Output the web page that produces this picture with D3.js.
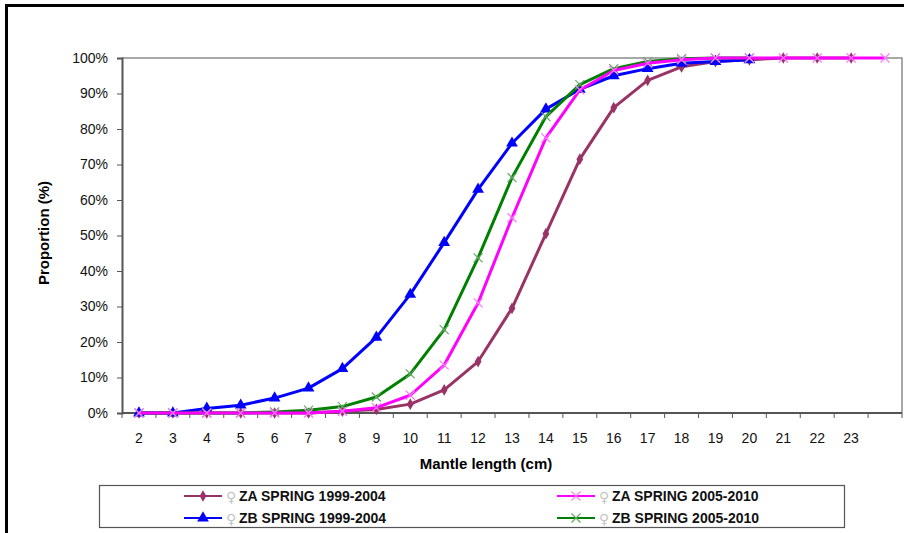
<!DOCTYPE html>
<html lang="en">
<head>
    <meta charset="utf-8" />
    <title>Mantle length proportion</title>
    <style type="text/css">
        body{ margin:0; background:#fff; }
        text{ font-family:"Liberation Sans", Arial, sans-serif; }
    </style>
</head>
<body>

<script src="https://cdn.jsdelivr.net/npm/d3@7/dist/d3.min.js"></script>

<script>
    var width = 904, height = 533;

    // categories on the x axis (last one has no label in the original)
    var lengths = ["2","3","4","5","6","7","8","9","10","11","12","13","14","15","16","17","18","19","20","21","22","23",""];
    var yTicks = [0,10,20,30,40,50,60,70,80,90,100];

    // proportions in %, one per category, null = no point
    var zaSpring9904 = [0,0,0,0,0,0,0.5,1,2.5,6.5,14.5,29.5,50.5,71.5,86,93.7,97.5,99,99.5,100,100,100,null];
    var zaSpring0510 = [0,0,0,0,0,0,0.5,1.5,5,13.5,31,55,77.5,91,96.5,98.5,99.5,100,100,100,100,100,100];
    var zbSpring9904 = [0,0,1.3,2.2,4.2,7,12.5,21.3,33.4,48,63,76,85.6,91.2,95,97,98.5,99,99.5,null,null,null,null];
    var zbSpring0510 = [0,0,0,0,0.3,0.8,1.8,4.5,11,23.5,43.7,66.3,83.5,92.5,97,99,99.8,100,100,null,null,null,null];

    var seriesNames = ["ZA SPRING 1999-2004","ZA SPRING 2005-2010","ZB SPRING 1999-2004","ZB SPRING 2005-2010"];

    var series = [
        {name: seriesNames[0], values: zaSpring9904, color:"#993366", mark:"diamond", markColor:"#993366"},
        {name: seriesNames[2], values: zbSpring9904, color:"#0000ff", mark:"triangle", markColor:"#0000ff"},
        {name: seriesNames[3], values: zbSpring0510, color:"#008000", mark:"x", markColor:"#66a866"},
        {name: seriesNames[1], values: zaSpring0510, color:"#ff00ff", mark:"x", markColor:"#ff77ff"}
    ];

    var margin = {left:122, right:2, top:58, bottom:120};

    var svg = d3.select("body").append("svg")
        .attr("width", width)
        .attr("height", height);

    // outer frame
    svg.append("rect")
        .attr("x", 6.5).attr("y", 5.5)
        .attr("width", width + 10).attr("height", height + 10)
        .attr("fill", "none")
        .attr("stroke", "#000")
        .attr("stroke-width", 3);

    var x = d3.scaleBand()
        .domain(d3.range(lengths.length))
        .range([margin.left, width - margin.right])
        .padding(0);

    var y = d3.scaleLinear()
        .domain([0, 100])
        .range([413, margin.top]);

    // plot border (top and right)
    svg.append("path")
        .attr("d", "M" + margin.left + "," + y(100) + "H" + (width - margin.right) + "V" + y(0))
        .attr("fill", "none")
        .attr("stroke", "#8c8c8c")
        .attr("stroke-width", 1.5);

    // y axis
    var yAxis = svg.append("g")
        .attr("transform", "translate(" + margin.left + ",0)")
        .call(d3.axisLeft(y).tickValues(yTicks).tickSize(5).tickPadding(9)
            .tickFormat(function(d){ return d + "%"; }));
    yAxis.select(".domain").attr("stroke", "#555").attr("stroke-width", 2);
    yAxis.selectAll(".tick line").attr("stroke", "#555");
    yAxis.selectAll("text").attr("font-size", 14).attr("fill", "#111");

    // x axis, ticks between categories
    var xAxis = svg.append("g")
        .attr("transform", "translate(0," + y(0) + ")");
    xAxis.append("line")
        .attr("x1", margin.left).attr("x2", width - margin.right)
        .attr("stroke", "#555").attr("stroke-width", 2);
    xAxis.selectAll(".tk")
        .data(d3.range(lengths.length + 1))
        .enter().append("line")
        .attr("x1", function(i){ return i < lengths.length ? x(i) : width - margin.right; })
        .attr("x2", function(i){ return i < lengths.length ? x(i) : width - margin.right; })
        .attr("y1", 0).attr("y2", 5)
        .attr("stroke", "#555");
    xAxis.selectAll(".lbl")
        .data(lengths)
        .enter().append("text")
        .attr("x", function(d, i){ return x(i) + x.bandwidth() / 2; })
        .attr("y", 30)
        .attr("text-anchor", "middle")
        .attr("font-size", 14)
        .attr("fill", "#111")
        .text(function(d){ return d; });

    // axis titles
    svg.append("text")
        .attr("x", 486).attr("y", 469)
        .attr("text-anchor", "middle")
        .attr("font-size", 15).attr("font-weight", "bold")
        .text("Mantle length (cm)");

    svg.append("text")
        .attr("transform", "translate(49,233) rotate(-90)")
        .attr("text-anchor", "middle")
        .attr("font-size", 15).attr("font-weight", "bold")
        .text("Proportion (%)");

    var line = d3.line()
        .defined(function(d){ return d != null; })
        .x(function(d, i){ return x(i) + x.bandwidth() / 2; })
        .y(function(d){ return y(d); });

    function drawMark(g, type, color, size) {
        if (type == "diamond") {
            g.append("path").attr("d", d3.symbol(d3.symbolDiamond, size * size * 0.55)())
                .attr("fill", color);
        } else if (type == "triangle") {
            g.append("path").attr("d", d3.symbol(d3.symbolTriangle, size * size * 0.6)())
                .attr("fill", color);
        } else {
            var h = size / 2;
            g.append("path").attr("d", "M" + -h + "," + -h + "L" + h + "," + h + "M" + -h + "," + h + "L" + h + "," + -h)
                .attr("stroke", color).attr("stroke-width", 1.2).attr("fill", "none");
        }
    }

    series.forEach(function(s){
        var g = svg.append("g");
        g.append("path")
            .datum(s.values)
            .attr("d", line)
            .attr("fill", "none")
            .attr("stroke", s.color)
            .attr("stroke-width", 3)
            .attr("stroke-linejoin", "round");
        s.values.forEach(function(v, i){
            if (v == null) return;
            var m = g.append("g")
                .attr("transform", "translate(" + (x(i) + x.bandwidth() / 2) + "," + y(v) + ")");
            drawMark(m, s.mark, s.markColor, s.mark == "x" ? 9 : (s.mark == "diamond" ? 8.5 : 10));
        });
    });

    // legend
    var legend = svg.append("g");
    legend.append("rect")
        .attr("x", 99.5).attr("y", 485.5)
        .attr("width", 745).attr("height", 42)
        .attr("fill", "#fff")
        .attr("stroke", "#555").attr("stroke-width", 1.2);

    var legendItems = [
        {s: series[0], x: 184, y: 496},
        {s: series[3], x: 557, y: 496},
        {s: series[1], x: 184, y: 518},
        {s: series[2], x: 557, y: 518}
    ];

    legendItems.forEach(function(it){
        var g = legend.append("g").attr("transform", "translate(" + it.x + "," + it.y + ")");
        g.append("line").attr("x1", 0).attr("x2", 38)
            .attr("stroke", it.s.color).attr("stroke-width", 2);
        var m = g.append("g").attr("transform", "translate(19,0)");
        drawMark(m, it.s.mark, it.s.markColor, it.s.mark == "x" ? 9 : (it.s.mark == "diamond" ? 8.5 : 10));
        g.append("text").attr("x", 42).attr("y", 6)
            .attr("font-size", 14).attr("fill", "#c4c4c4")
            .style("font-family", "'DejaVu Sans', sans-serif")
            .text("\u2640");
        g.append("text").attr("x", 55).attr("y", 5)
            .attr("font-size", 14).attr("font-weight", "bold").attr("fill", "#111")
            .text(it.s.name);
    });
</script>

</body>
</html>
